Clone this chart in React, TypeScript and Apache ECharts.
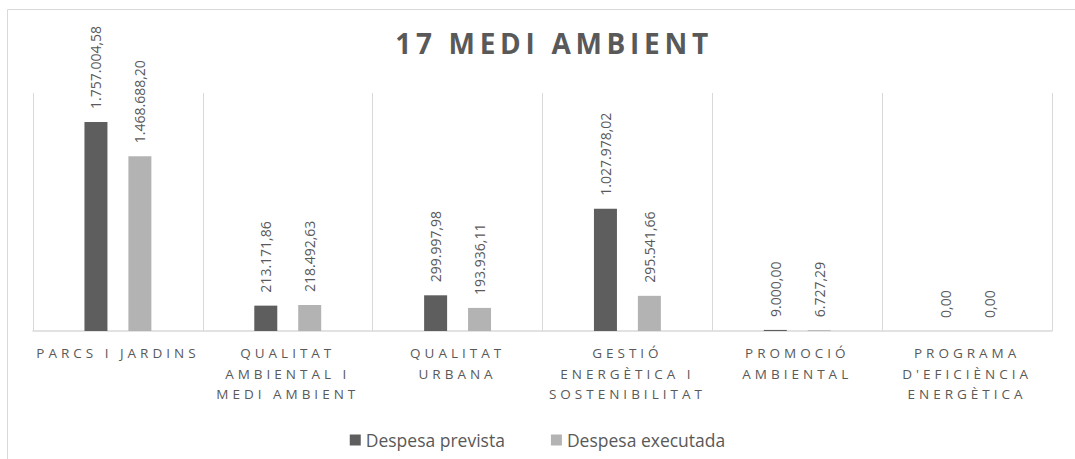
import React, { useEffect, useRef } from "react";
import * as echarts from "echarts";

const categories = [
  "PARCS I JARDINS",
  "QUALITAT\nAMBIENTAL I\nMEDI AMBIENT",
  "QUALITAT\nURBANA",
  "GESTIÓ\nENERGÈTICA I\nSOSTENIBILITAT",
  "PROMOCIÓ\nAMBIENTAL",
  "PROGRAMA\nD'EFICIÈNCIA\nENERGÈTICA",
];
const prevista = [1757004.58, 213171.86, 299997.98, 1027978.02, 9000.0, 0.0];
const executada = [1468688.2, 218492.63, 193936.11, 295541.66, 6727.29, 0.0];
const seriesNames = ["Despesa prevista", "Despesa executada"];
const titleText = "17 MEDI AMBIENT";

const FONT = "'Open Sans', sans-serif";
const FONT_AXIS = "SpacedAxis, 'Open Sans', sans-serif";
const FONT_TITLE = "SpacedTitle, 'Open Sans', sans-serif";
const TEXT = "#595959";
const GRIDC = "#d9d9d9";

const fmt = (v: number) => {
  const [i, d] = v.toFixed(2).split(".");
  return i.replace(/\B(?=(\d{3})+(?!\d))/g, ".") + "," + d;
};

const css = `
text[style*="SpacedAxis"], text[font-family*="SpacedAxis"] { letter-spacing: 4px; }
text[style*="SpacedTitle"], text[font-family*="SpacedTitle"] { letter-spacing: 4.7px; }
`;

export default function App() {
  const ref = useRef<HTMLDivElement>(null);
  useEffect(() => {
    if (!ref.current) return;
    const chart = echarts.init(ref.current, null, { renderer: "svg" });
    const label = {
      show: true,
      position: "top",
      rotate: 90,
      align: "left",
      verticalAlign: "middle",
      distance: 13,
      color: TEXT,
      fontSize: 14,
      fontFamily: FONT,
      formatter: (p: any) => fmt(p.value),
    };
    chart.setOption({
      animation: false,
      backgroundColor: "#ffffff",
      title: {
        text: titleText,
        left: 554,
        top: 29,
        padding: 0,
        textAlign: "center",
        textStyle: {
          color: TEXT,
          fontSize: 28,
          fontWeight: "bold",
          fontFamily: FONT_TITLE,
        },
      },
      graphic: [
        {
          type: "rect",
          silent: true,
          z: -10,
          shape: { x: 7.5, y: 9.5, width: 1300, height: 700 },
          style: { fill: "none", stroke: GRIDC, lineWidth: 1 },
        },
      ],
      legend: {
        data: seriesNames,
        left: "center",
        top: 426,
        icon: "rect",
        itemWidth: 11,
        itemHeight: 11,
        itemGap: 46,
        itemTextGap: 5,
        textStyle: { color: TEXT, fontSize: 17.5, fontFamily: FONT },
      },
      grid: {
        left: 33,
        right: 23,
        top: 93,
        bottom: 128,
        containLabel: false,
        outerBoundsMode: "none",
      },
      xAxis: {
        type: "category",
        data: categories,
        axisLine: { show: true, lineStyle: { color: GRIDC, width: 1.5 } },
        axisTick: { show: false },
        splitLine: { show: true, lineStyle: { color: GRIDC, width: 1 } },
        axisLabel: {
          interval: 0,
          margin: 12,
          color: TEXT,
          fontSize: 13.5,
          lineHeight: 20.5,
          fontFamily: FONT_AXIS,
        },
      },
      yAxis: {
        type: "value",
        min: 0,
        max: 2000000,
        show: false,
        splitLine: { show: false },
      },
      series: [
        {
          name: seriesNames[0],
          type: "bar",
          data: prevista,
          barWidth: 23,
          barGap: "91%",
          itemStyle: { color: "#5e5e5e" },
          label,
        },
        {
          name: seriesNames[1],
          type: "bar",
          data: executada,
          barWidth: 23,
          barGap: "91%",
          itemStyle: { color: "#b3b3b3" },
          label,
        },
      ],
    });
    return () => chart.dispose();
  }, []);
  return (
    <>
      <style>{css}</style>
      <div
        ref={ref}
        style={{ position: "fixed", left: 0, top: 0, width: 1075, height: 459 }}
      />
    </>
  );
}
